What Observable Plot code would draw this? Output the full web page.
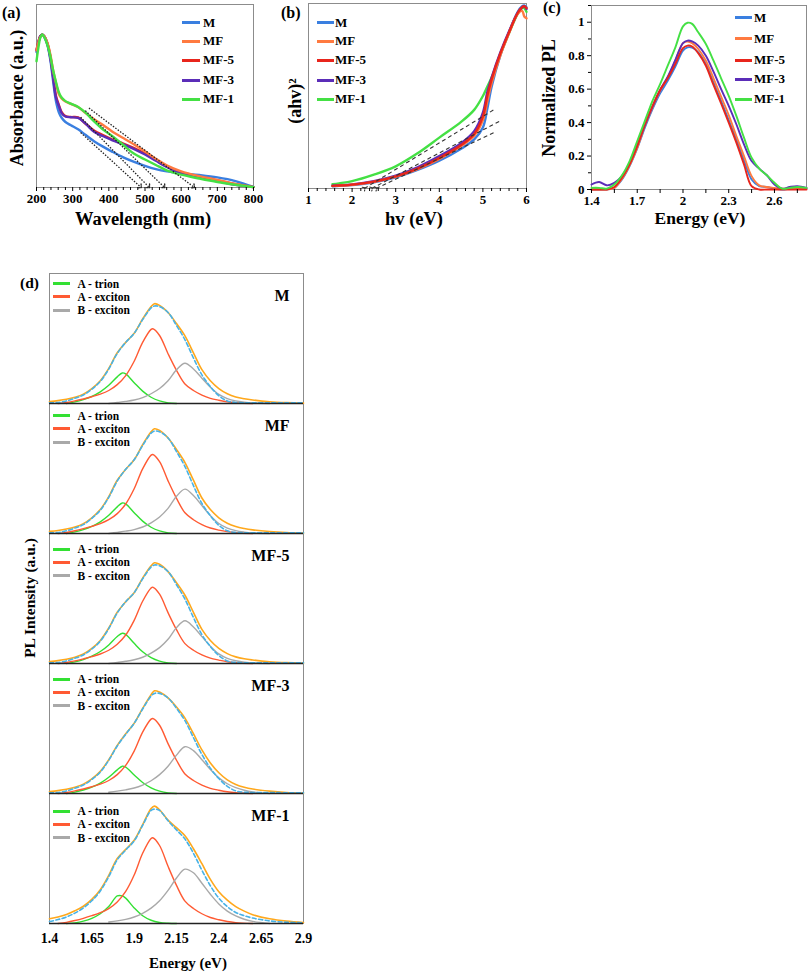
<!DOCTYPE html>
<html><head><meta charset="utf-8">
<script src="https://cdn.jsdelivr.net/npm/d3@7"></script>
<script src="https://cdn.jsdelivr.net/npm/@observablehq/plot@0.6"></script>
<style>
body{margin:0;background:#fff;}
#root{position:relative;width:808px;height:972px;font-family:'Liberation Serif','Times New Roman',serif;font-weight:bold;color:#000;overflow:hidden;background:#fff;}
.abs{position:absolute;white-space:nowrap;line-height:16px;}
.sw{position:absolute;height:3px;}
.pl{position:absolute;}
</style></head><body><div id="root"></div>
<script>
// ---------- shared series ----------
const seriesNames = ["M", "MF", "MF-5", "MF-3", "MF-1"];
const seriesColors = ["#3A7FE0", "#FF7A40", "#E8251C", "#5B2DB8", "#44E044"];

// ---------- (a) absorbance ----------
const wavelength = [200,205,210,216,222,230,238,246,254,262,270,280,295,315,335,360,385,410,440,470,500,530,560,600,650,700,750,800];
const absM   = [0.74,0.79,0.825,0.837,0.82,0.78,0.70,0.58,0.47,0.41,0.38,0.358,0.34,0.318,0.288,0.252,0.222,0.195,0.165,0.14,0.118,0.1,0.088,0.078,0.068,0.055,0.035,0.003];
const absMF  = [0.75,0.79,0.82,0.835,0.825,0.79,0.73,0.64,0.57,0.51,0.485,0.47,0.457,0.44,0.408,0.372,0.34,0.305,0.27,0.235,0.197,0.157,0.121,0.088,0.062,0.042,0.019,0.002];
const absMF5 = [0.75,0.795,0.825,0.835,0.825,0.79,0.72,0.61,0.5,0.45,0.41,0.39,0.385,0.383,0.35,0.31,0.285,0.262,0.24,0.215,0.185,0.15,0.115,0.082,0.058,0.038,0.018,0.002];
const absMF3 = [0.75,0.79,0.825,0.835,0.825,0.785,0.71,0.6,0.49,0.445,0.405,0.388,0.384,0.38,0.35,0.303,0.28,0.258,0.236,0.21,0.18,0.146,0.112,0.078,0.054,0.035,0.015,0.002];
const absMF1 = [0.69,0.76,0.815,0.836,0.82,0.78,0.72,0.64,0.575,0.52,0.49,0.472,0.458,0.44,0.41,0.36,0.315,0.28,0.232,0.184,0.153,0.123,0.094,0.07,0.049,0.03,0.015,0.002];
const tangentA_x1 = [322, 322, 335, 345];
const tangentA_y1 = [0.30, 0.384, 0.42, 0.434];
const tangentA_x2 = [487, 510, 552, 634];
const tangentA_y2 = [0.004, 0.004, 0.004, 0.004];
const ticksA = [200, 300, 400, 500, 600, 700, 800];
const minorTicksA = [220,240,260,280,320,340,360,380,420,440,460,480,520,540,560,580,620,640,660,680,720,740,760,780];

// ---------- (b) Tauc ----------
const energyB = [1.55,1.7,2.0,2.5,3.0,3.5,4.0,4.5,4.8,5.0,5.1,5.2,5.4,5.6,5.8,5.9,5.95,6.0];
const ahvM   = [0.012,0.014,0.018,0.033,0.06,0.1,0.15,0.215,0.265,0.33,0.43,0.55,0.72,0.845,0.955,0.985,0.99,0.98];
const ahvMF  = [0.013,0.015,0.02,0.036,0.064,0.105,0.16,0.23,0.285,0.37,0.47,0.57,0.72,0.84,0.945,0.96,0.93,0.92];
const ahvMF5 = [0.014,0.016,0.021,0.037,0.066,0.108,0.165,0.235,0.295,0.39,0.5,0.59,0.73,0.845,0.95,0.98,0.985,0.975];
const ahvMF3 = [0.015,0.017,0.022,0.04,0.07,0.115,0.175,0.245,0.31,0.41,0.52,0.6,0.735,0.85,0.95,0.98,0.985,0.97];
const ahvMF1 = [0.023,0.028,0.04,0.075,0.12,0.19,0.275,0.36,0.425,0.5,0.55,0.6,0.725,0.84,0.945,0.975,0.975,0.955];
const tangentB_x1 = [2.28, 2.45, 2.55];
const tangentB_y1 = [0, 0, 0];
const tangentB_x2 = [5.24, 5.41, 5.30];
const tangentB_y2 = [0.424, 0.367, 0.307];
const ticksB = [1, 2, 3, 4, 5, 6];
const minorTicksB = [1.2,1.4,1.6,1.8,2.2,2.4,2.6,2.8,3.2,3.4,3.6,3.8,4.2,4.4,4.6,4.8,5.2,5.4,5.6,5.8];

// ---------- (c) normalized PL ----------
const energyC = [1.40,1.45,1.50,1.55,1.60,1.65,1.70,1.75,1.80,1.85,1.90,1.95,2.00,2.03,2.06,2.10,2.15,2.20,2.25,2.30,2.35,2.40,2.45,2.50,2.55,2.60,2.65,2.70,2.75,2.81];
const plM   = [0,0,0,0.01,0.06,0.14,0.245,0.37,0.48,0.575,0.65,0.735,0.83,0.85,0.848,0.82,0.75,0.64,0.53,0.415,0.3,0.175,0.06,0.02,0.015,0.005,0,0.005,0.01,0.005];
const plMF  = [0,0,0,0.01,0.065,0.145,0.25,0.38,0.49,0.59,0.67,0.77,0.875,0.885,0.875,0.84,0.77,0.665,0.555,0.445,0.32,0.2,0.08,0.025,0.015,0.01,0.005,0.005,0.008,0.005];
const plMF5 = [0,0,0,0.015,0.07,0.15,0.26,0.39,0.5,0.595,0.665,0.75,0.845,0.86,0.855,0.815,0.74,0.625,0.515,0.4,0.28,0.15,0.02,0,0,0,0,0,0,0];
const plMF3 = [0.03,0.045,0.025,0.04,0.08,0.16,0.265,0.385,0.495,0.595,0.675,0.775,0.875,0.89,0.885,0.86,0.8,0.705,0.6,0.5,0.39,0.27,0.17,0.125,0.085,0.03,0.005,0.015,0.02,0.01];
const plMF1 = [0.01,0.01,0.005,0.03,0.085,0.17,0.29,0.41,0.53,0.63,0.74,0.85,0.975,0.997,0.99,0.94,0.87,0.77,0.665,0.56,0.44,0.31,0.19,0.125,0.085,0.04,0.005,0.01,0.015,0.01];
const ticksCx = [1.4, 1.7, 2, 2.3, 2.6];
const minorTicksCx = [1.55, 1.85, 2.15, 2.45, 2.75];
const ticksCy = [0, 0.2, 0.4, 0.6, 0.8, 1];
const minorTicksCy = [0.1, 0.3, 0.5, 0.7, 0.9, 1.1];

// ---------- (d) PL deconvolution ----------
const dSamples = ["M", "MF", "MF-5", "MF-3", "MF-1"];
const componentNames = ["A - trion", "A - exciton", "B - exciton"];
const trionEnergy = [1.50,1.55,1.60,1.65,1.70,1.75,1.80,1.83,1.85,1.90,1.95,2.00,2.05,2.10,2.15];
const aEnergy = [1.45,1.50,1.55,1.60,1.65,1.70,1.75,1.80,1.85,1.90,1.95,2.00,2.01,2.05,2.10,2.15,2.20,2.25,2.30,2.35,2.40,2.45,2.50,2.60];
const bEnergy = [1.75,1.80,1.85,1.90,1.95,2.00,2.05,2.10,2.15,2.20,2.25,2.30,2.35,2.40,2.45,2.50,2.55,2.60,2.70];
const fitEnergy = [1.40,1.45,1.50,1.55,1.60,1.65,1.70,1.75,1.80,1.85,1.90,1.95,2.00,2.02,2.05,2.10,2.15,2.20,2.25,2.30,2.35,2.40,2.45,2.50,2.55,2.60,2.70,2.80,2.90];

const trionM   = [0,0.012,0.03,0.055,0.09,0.14,0.205,0.235,0.228,0.16,0.095,0.048,0.02,0.005,0];
const trionMF  = [0,0.012,0.03,0.055,0.09,0.14,0.205,0.235,0.228,0.16,0.095,0.048,0.02,0.005,0];
const trionMF5 = [0,0.012,0.03,0.056,0.092,0.143,0.208,0.233,0.224,0.155,0.09,0.045,0.018,0.004,0];
const trionMF3 = [0,0.011,0.027,0.049,0.08,0.125,0.182,0.21,0.203,0.142,0.085,0.043,0.018,0.004,0];
const trionMF1 = [0,0.005,0.018,0.04,0.075,0.13,0.212,0.212,0.195,0.12,0.06,0.025,0.008,0.002,0];

const aExcM   = [0,0.008,0.02,0.035,0.052,0.072,0.1,0.145,0.215,0.325,0.47,0.57,0.575,0.523,0.383,0.255,0.15,0.1,0.065,0.04,0.025,0.013,0.006,0];
const aExcMF  = [0,0.008,0.021,0.037,0.055,0.076,0.106,0.153,0.227,0.344,0.497,0.603,0.608,0.553,0.405,0.27,0.159,0.106,0.069,0.042,0.026,0.014,0.006,0];
const aExcMF5 = [0,0.008,0.02,0.036,0.053,0.073,0.102,0.148,0.219,0.332,0.479,0.581,0.587,0.533,0.391,0.26,0.153,0.102,0.066,0.041,0.026,0.013,0.006,0];
const aExcMF3 = [0,0.008,0.02,0.035,0.052,0.072,0.1,0.145,0.216,0.326,0.472,0.572,0.577,0.525,0.384,0.256,0.15,0.1,0.065,0.04,0.025,0.013,0.006,0];
const aExcMF1 = [0,0.009,0.023,0.04,0.06,0.083,0.115,0.166,0.247,0.373,0.54,0.654,0.66,0.6,0.44,0.293,0.172,0.115,0.075,0.046,0.029,0.015,0.007,0];

const bExcM   = [0,0.008,0.016,0.027,0.045,0.075,0.115,0.175,0.26,0.31,0.265,0.195,0.125,0.07,0.038,0.02,0.01,0.004,0];
const bExcMF  = [0,0.009,0.018,0.03,0.05,0.082,0.127,0.193,0.286,0.341,0.292,0.215,0.138,0.077,0.042,0.022,0.011,0.004,0];
const bExcMF5 = [0,0.008,0.017,0.029,0.048,0.08,0.122,0.186,0.276,0.329,0.281,0.207,0.133,0.074,0.04,0.021,0.011,0.004,0];
const bExcMF3 = [0.01,0.018,0.028,0.042,0.065,0.098,0.145,0.21,0.295,0.36,0.33,0.26,0.185,0.12,0.075,0.045,0.025,0.012,0];
const bExcMF1 = [0.012,0.02,0.032,0.05,0.078,0.118,0.175,0.255,0.35,0.418,0.39,0.31,0.225,0.15,0.095,0.058,0.033,0.016,0];

const fitM   = [0.015,0.022,0.032,0.048,0.072,0.115,0.175,0.27,0.39,0.47,0.54,0.65,0.745,0.768,0.755,0.70,0.615,0.52,0.39,0.26,0.175,0.115,0.075,0.05,0.036,0.027,0.014,0.007,0.003];
const fitMF  = [0.016,0.023,0.034,0.05,0.076,0.121,0.184,0.284,0.41,0.494,0.567,0.683,0.782,0.806,0.793,0.735,0.646,0.546,0.41,0.273,0.184,0.121,0.079,0.053,0.038,0.028,0.015,0.007,0.003];
const fitMF5 = [0.015,0.022,0.032,0.048,0.073,0.116,0.177,0.273,0.394,0.475,0.545,0.657,0.752,0.775,0.763,0.707,0.621,0.525,0.394,0.263,0.177,0.116,0.076,0.051,0.036,0.027,0.014,0.007,0.003];
const fitMF3 = [0.015,0.022,0.032,0.048,0.072,0.112,0.17,0.26,0.37,0.46,0.54,0.655,0.76,0.79,0.78,0.735,0.665,0.58,0.46,0.335,0.235,0.16,0.105,0.07,0.048,0.034,0.018,0.008,0.003];
const fitMF1 = [0.036,0.05,0.07,0.098,0.133,0.185,0.26,0.37,0.5,0.57,0.64,0.76,0.885,0.903,0.875,0.795,0.737,0.675,0.575,0.46,0.34,0.245,0.18,0.13,0.095,0.068,0.036,0.018,0.008];

const measM   = [0.005,0.008,0.02,0.04,0.065,0.11,0.17,0.265,0.385,0.47,0.54,0.645,0.735,0.75,0.745,0.70,0.6,0.49,0.35,0.22,0.13,0.06,0.02,0.008,0.006,0.005,0.006,0.005,0.005];
const measMF  = [0.005,0.008,0.021,0.042,0.068,0.116,0.179,0.278,0.404,0.494,0.567,0.677,0.772,0.788,0.782,0.735,0.63,0.515,0.368,0.231,0.137,0.063,0.021,0.008,0.006,0.005,0.006,0.005,0.005];
const measMF5 = [0.005,0.008,0.02,0.04,0.066,0.111,0.172,0.268,0.389,0.475,0.545,0.651,0.742,0.758,0.752,0.707,0.606,0.495,0.354,0.222,0.131,0.061,0.02,0.008,0.006,0.005,0.006,0.005,0.005];
const measMF3 = [0.005,0.008,0.02,0.04,0.065,0.108,0.165,0.255,0.365,0.455,0.54,0.65,0.75,0.77,0.77,0.735,0.655,0.56,0.43,0.3,0.195,0.115,0.055,0.02,0.01,0.008,0.007,0.006,0.005];
const measMF1 = [0.015,0.03,0.05,0.08,0.12,0.175,0.25,0.36,0.49,0.565,0.635,0.755,0.87,0.88,0.87,0.79,0.72,0.65,0.54,0.41,0.29,0.195,0.13,0.085,0.06,0.042,0.02,0.01,0.005];
const ticksD = [1.4, 1.65, 1.9, 2.15, 2.4, 2.65, 2.9];

// ---------- helpers ----------
const root = document.getElementById("root");
const FONT = "'Liberation Serif','Times New Roman',serif";
function place(el, left, top) {
  const d = document.createElement("div");
  d.className = "pl"; d.style.left = left + "px"; d.style.top = top + "px";
  d.appendChild(el); root.appendChild(d);
}
function label(text, left, top, size, extra) {
  const d = document.createElement("div");
  d.className = "abs"; d.textContent = text;
  d.style.left = left + "px"; d.style.top = top + "px"; d.style.fontSize = size + "px";
  if (extra) Object.assign(d.style, extra);
  root.appendChild(d); return d;
}
function centered(text, cx, cy, size, rotate) {
  return label(text, cx, cy, size, {lineHeight: "1", transform: "translate(-50%,-50%)" + (rotate ? " rotate(-90deg)" : "")});
}
function swatch(left, top, width, color) {
  const d = document.createElement("div");
  d.className = "sw"; d.style.left = left + "px"; d.style.top = top + "px";
  d.style.width = width + "px"; d.style.background = color;
  root.appendChild(d);
}
function rows(xs, ys, s) { return xs.map((x, i) => ({x, y: ys[i], s})); }
const plotStyle = {fontFamily: FONT, fontWeight: "bold", fontSize: "13px", background: "transparent", overflow: "visible", color: "#000"};
const colorOf = Object.fromEntries(seriesNames.map((n, i) => [n, seriesColors[i]]));

// ---------- panel (a) ----------
const absSeries = {"M": absM, "MF": absMF, "MF-5": absMF5, "MF-3": absMF3, "MF-1": absMF1};
const orderA = ["M", "MF-5", "MF-3", "MF", "MF-1"];
const tangA = tangentA_x1.map((x1, i) => ({x1, y1: tangentA_y1[i], x2: tangentA_x2[i], y2: tangentA_y2[i]}));
const plotA = Plot.plot({
  width: 258, height: 228, marginLeft: 36, marginRight: 5, marginTop: 4, marginBottom: 41,
  style: plotStyle,
  x: {domain: [200, 800], axis: null},
  y: {domain: [0, 1], axis: null},
  marks: [
    Plot.frame({stroke: "#8c8c8c"}),
    ...orderA.map(n => Plot.line(rows(wavelength, absSeries[n], n), {x: "x", y: "y", stroke: colorOf[n], strokeWidth: 2.4, curve: "catmull-rom"})),
    Plot.link(tangA, {x1: "x1", y1: "y1", x2: "x2", y2: "y2", stroke: "#222", strokeWidth: 1.3, strokeDasharray: "1.5,1.5", markerEnd: "arrow"}),
    Plot.axisX({ticks: ticksA, tickSize: 4, tickPadding: 2, tickFormat: d => String(d), label: null, fontSize: 13}),
    Plot.axisX({ticks: minorTicksA, tickSize: 3, tickFormat: () => "", label: null})
  ]
});
place(plotA, 0, 0);

// ---------- panel (b) ----------
const ahvSeries = {"M": ahvM, "MF": ahvMF, "MF-5": ahvMF5, "MF-3": ahvMF3, "MF-1": ahvMF1};
const orderB = ["MF-1", "M", "MF-3", "MF", "MF-5"];
const tangB = tangentB_x1.map((x1, i) => ({x1, y1: tangentB_y1[i], x2: tangentB_x2[i], y2: tangentB_y2[i]}));
const plotB = Plot.plot({
  width: 268, height: 228, marginLeft: 45, marginRight: 5, marginTop: 3, marginBottom: 40,
  style: plotStyle,
  x: {domain: [1, 6], axis: null},
  y: {domain: [0, 1], axis: null},
  marks: [
    Plot.frame({stroke: "#8c8c8c"}),
    ...orderB.map(n => Plot.line(rows(energyB, ahvSeries[n], n), {x: "x", y: "y", stroke: colorOf[n], strokeWidth: 2.4, curve: "catmull-rom"})),
    Plot.link(tangB, {x1: "x1", y1: "y1", x2: "x2", y2: "y2", stroke: "#333", strokeWidth: 1.1, strokeDasharray: "4,3", markerStart: "arrow"}),
    Plot.axisX({ticks: ticksB, tickSize: 4, tickPadding: 2, tickFormat: d => String(d), label: null, fontSize: 13}),
    Plot.axisX({ticks: minorTicksB, tickSize: 3, tickFormat: () => "", label: null})
  ]
});
place(plotB, 263, 0);

// ---------- panel (c) ----------
const plSeries = {"M": plM, "MF": plMF, "MF-5": plMF5, "MF-3": plMF3, "MF-1": plMF1};
const orderC = ["M", "MF", "MF-3", "MF-5", "MF-1"];
const plotC = Plot.plot({
  width: 278, height: 228, marginLeft: 61, marginRight: 2, marginTop: 5, marginBottom: 39,
  style: plotStyle,
  x: {domain: [1.4, 2.81], axis: null},
  y: {domain: [0, 1.1], axis: null},
  marks: [
    Plot.frame({stroke: "#8c8c8c"}),
    ...orderC.map(n => Plot.line(rows(energyC, plSeries[n], n), {x: "x", y: "y", stroke: colorOf[n], strokeWidth: 1.9, curve: "catmull-rom"})),
    Plot.axisX({ticks: ticksCx, tickSize: 4, tickPadding: 2, tickFormat: d => String(d), label: null, fontSize: 13}),
    Plot.axisX({ticks: minorTicksCx, tickSize: 4, tickFormat: () => "", label: null}),
    Plot.axisY({ticks: ticksCy, tickSize: 4, tickPadding: 3, tickFormat: d => String(d), label: null, fontSize: 13}),
    Plot.axisY({ticks: minorTicksCy, tickSize: 3, tickFormat: () => "", label: null})
  ]
});
place(plotC, 530, 0);

// axis titles (a)(b)(c)
centered("Wavelength (nm)", 143, 219, 18.5);
centered("Absorbance (a.u.)", 17, 98, 18, true);
centered("hv (eV)", 414, 219, 18.5);
centered("(ahv)²", 295, 101, 18, true);
centered("Energy (eV)", 700, 219, 17.5);
centered("Normalized PL", 549, 98, 18, true);

// legends (a)(b)(c)
const legendRowsA = [22.7, 41, 60, 80, 99];
seriesNames.forEach((n, i) => {
  swatch(182, legendRowsA[i] - 1.5, 18, colorOf[n]);
  label(n, 203, legendRowsA[i] - 8, 13);
  swatch(317, legendRowsA[i] - 1.5, 17, colorOf[n]);
  label(n, 335, legendRowsA[i] - 8, 13);
});
const legendRowsC = [17.5, 38.5, 60, 79, 99];
seriesNames.forEach((n, i) => {
  swatch(735, legendRowsC[i] - 1.5, 17, colorOf[n]);
  label(n, 754, legendRowsC[i] - 8, 13);
});
label("(a)", 2, 5, 16);
label("(b)", 281, 5, 16);
label("(c)", 543, 0, 16);

// ---------- panel (d) ----------
const trionBy = {"M": trionM, "MF": trionMF, "MF-5": trionMF5, "MF-3": trionMF3, "MF-1": trionMF1};
const aBy = {"M": aExcM, "MF": aExcMF, "MF-5": aExcMF5, "MF-3": aExcMF3, "MF-1": aExcMF1};
const bBy = {"M": bExcM, "MF": bExcMF, "MF-5": bExcMF5, "MF-3": bExcMF3, "MF-1": bExcMF1};
const fitBy = {"M": fitM, "MF": fitMF, "MF-5": fitMF5, "MF-3": fitMF3, "MF-1": fitMF1};
const measBy = {"M": measM, "MF": measMF, "MF-5": measMF5, "MF-3": measMF3, "MF-1": measMF1};
function dRows(xs, by) { return dSamples.flatMap(s => rows(xs, by[s], s)); }
const compColors = ["#33E033", "#FF5A33", "#A9A9A9"];
const plotD = Plot.plot({
  width: 320, height: 700, marginLeft: 49, marginRight: 17, marginTop: 1, marginBottom: 49,
  style: Object.assign({}, plotStyle, {fontSize: "14px"}),
  fy: {domain: dSamples, axis: null, padding: 0},
  x: {domain: [1.4, 2.9], ticks: ticksD, tickFormat: d => String(d), tickSize: 0, tickPadding: 10, label: null},
  y: {domain: [0, 1], axis: null},
  marks: [
    Plot.frame({stroke: "#8c8c8c"}),
    Plot.line(dRows(trionEnergy, trionBy), {x: "x", y: "y", z: "s", fy: "s", stroke: compColors[0], strokeWidth: 1.4, curve: "catmull-rom"}),
    Plot.line(dRows(aEnergy, aBy), {x: "x", y: "y", z: "s", fy: "s", stroke: compColors[1], strokeWidth: 1.4, curve: "catmull-rom"}),
    Plot.line(dRows(bEnergy, bBy), {x: "x", y: "y", z: "s", fy: "s", stroke: compColors[2], strokeWidth: 1.4, curve: "catmull-rom"}),
    Plot.line(dRows(fitEnergy, fitBy), {x: "x", y: "y", z: "s", fy: "s", stroke: "#FFA81C", strokeWidth: 1.6, curve: "catmull-rom"}),
    Plot.line(dRows(fitEnergy, measBy), {x: "x", y: "y", z: "s", fy: "s", stroke: "#47B2E6", strokeWidth: 1.6, strokeDasharray: "4,2.5", curve: "catmull-rom"}),
    Plot.ruleY(dSamples, {fy: d => d, y: () => 0, stroke: "#222", strokeWidth: 1.5}),
    Plot.text(dSamples, {fy: d => d, text: d => d, frameAnchor: "top-right", dx: -14, dy: 22, textAnchor: "end", lineAnchor: "middle", fontSize: 16})
  ]
});
place(plotD, 0, 272);

const legendTopD = [10.5, 12.5, 16, 16, 18];
dSamples.forEach((s, i) => {
  const top = 273 + 130 * i + legendTopD[i];
  componentNames.forEach((c, j) => {
    const y = top + 13.4 * j;
    swatch(53, y - 1.5, 17, compColors[j]);
    label(c, 77.5, y - 8, 11.5);
  });
});
label("(d)", 20, 275, 15.5);
centered("PL Intensity (a.u.)", 30, 598, 15.5, true);
centered("Energy (eV)", 188, 963, 15);
</script></body></html>
